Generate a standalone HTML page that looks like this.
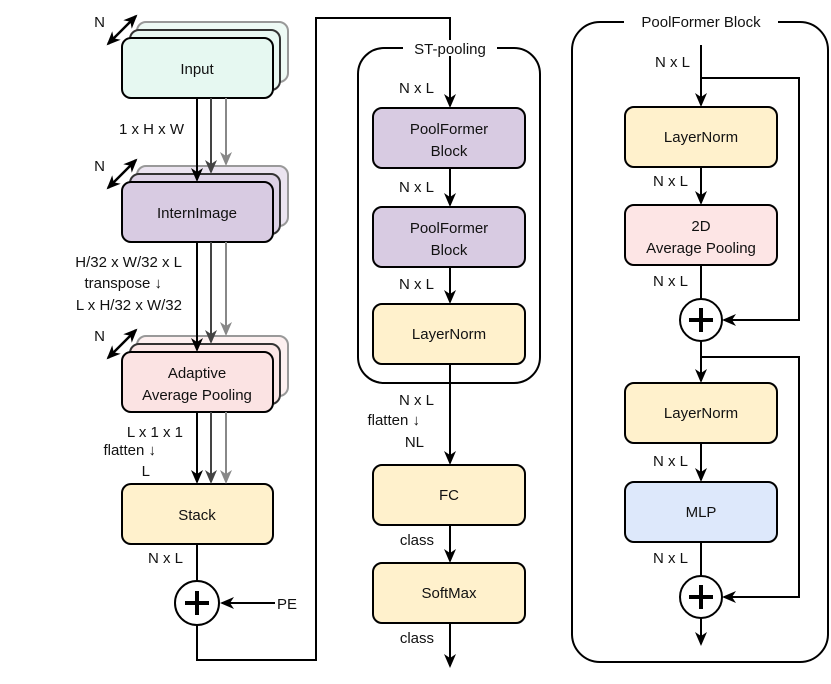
<!DOCTYPE html>
<html><head><meta charset="utf-8"><style>
body{margin:0;background:#fff}
text{font-family:"Liberation Sans",sans-serif;font-size:15px;fill:#111}
</style></head><body>
<svg width="831" height="679" viewBox="0 0 831 679" xmlns="http://www.w3.org/2000/svg">
<defs>
<marker id="a" markerWidth="14" markerHeight="14" refX="12" refY="7" orient="auto" markerUnits="userSpaceOnUse"><path d="M0,1 L14,7 L0,13 L4,7z" fill="#000"/></marker>
<marker id="g1" markerWidth="14" markerHeight="14" refX="12" refY="7" orient="auto" markerUnits="userSpaceOnUse"><path d="M0,1 L14,7 L0,13 L4,7z" fill="#444"/></marker>
<marker id="g2" markerWidth="14" markerHeight="14" refX="12" refY="7" orient="auto" markerUnits="userSpaceOnUse"><path d="M0,1 L14,7 L0,13 L4,7z" fill="#888"/></marker>
<marker id="s" markerWidth="14" markerHeight="14" refX="2" refY="7" orient="auto" markerUnits="userSpaceOnUse"><path d="M14,1 L0,7 L14,13 L10,7z" fill="#000"/></marker>
</defs>
<g stroke-width="2">
<rect x="137" y="22" width="151" height="60" rx="9" fill="#eefaf5" stroke="#999"/>
<rect x="130" y="30" width="150" height="60" rx="9" fill="#e8f8f2" stroke="#333"/>
<rect x="122" y="38" width="151" height="60" rx="9" fill="#e6f8f1" stroke="#000"/>
<rect x="137" y="166" width="151" height="60" rx="9" fill="#ebe4f0" stroke="#999"/>
<rect x="130" y="174" width="150" height="60" rx="9" fill="#ddd2e6" stroke="#333"/>
<rect x="122" y="182" width="151" height="60" rx="9" fill="#d8cbe2" stroke="#000"/>
<rect x="137" y="336" width="151" height="60" rx="9" fill="#fdf0f0" stroke="#999"/>
<rect x="130" y="344" width="150" height="60" rx="9" fill="#fbe6e6" stroke="#333"/>
<rect x="122" y="352" width="151" height="60" rx="9" fill="#fbe3e3" stroke="#000"/>
<rect x="122" y="484" width="151" height="60" rx="9" fill="#fff1cc" stroke="#000"/>
</g>
<g fill="none" stroke-width="2">
<line x1="197" y1="98" x2="197" y2="180" stroke="#000" marker-end="url(#a)"/>
<line x1="211" y1="98" x2="211" y2="172" stroke="#444" marker-end="url(#g1)"/>
<line x1="226" y1="98" x2="226" y2="164" stroke="#888" marker-end="url(#g2)"/>
<line x1="197" y1="242" x2="197" y2="350" stroke="#000" marker-end="url(#a)"/>
<line x1="211" y1="242" x2="211" y2="342" stroke="#444" marker-end="url(#g1)"/>
<line x1="226" y1="242" x2="226" y2="334" stroke="#888" marker-end="url(#g2)"/>
<line x1="197" y1="412" x2="197" y2="482" stroke="#000" marker-end="url(#a)"/>
<line x1="211" y1="412" x2="211" y2="482" stroke="#444" marker-end="url(#g1)"/>
<line x1="226" y1="412" x2="226" y2="482" stroke="#888" marker-end="url(#g2)"/>
<line x1="136" y1="16" x2="108" y2="44" stroke="#000" stroke-width="2.5" marker-end="url(#a)" marker-start="url(#s)"/>
<line x1="136" y1="160" x2="108" y2="188" stroke="#000" stroke-width="2.5" marker-end="url(#a)" marker-start="url(#s)"/>
<line x1="136" y1="330" x2="108" y2="358" stroke="#000" stroke-width="2.5" marker-end="url(#a)" marker-start="url(#s)"/>
<line x1="197" y1="544" x2="197" y2="581" stroke="#000"/>
<line x1="275" y1="603" x2="222" y2="603" stroke="#000" marker-end="url(#a)"/>
<polyline points="197,625 197,660 316,660 316,18 450,18 450,106" stroke="#000" marker-end="url(#a)"/>
</g>
<circle cx="197" cy="603" r="22" fill="#fff" stroke="#000" stroke-width="2"/>
<path d="M185,603h24M197,591v24" stroke="#000" stroke-width="4"/>
<rect x="358" y="48" width="182" height="335" rx="26" fill="none" stroke="#000" stroke-width="2"/>
<rect x="403" y="40" width="94" height="16" fill="#fff"/>
<g stroke-width="2" stroke="#000">
<rect x="373" y="108" width="152" height="60" rx="9" fill="#d8cbe2"/>
<rect x="373" y="207" width="152" height="60" rx="9" fill="#d8cbe2"/>
<rect x="373" y="304" width="152" height="60" rx="9" fill="#fff1cc"/>
<rect x="373" y="465" width="152" height="60" rx="9" fill="#fff1cc"/>
<rect x="373" y="563" width="152" height="60" rx="9" fill="#fff1cc"/>
</g>
<g fill="none" stroke="#000" stroke-width="2" marker-end="url(#a)">
<line x1="450" y1="168" x2="450" y2="205"/>
<line x1="450" y1="267" x2="450" y2="302"/>
<line x1="450" y1="364" x2="450" y2="463"/>
<line x1="450" y1="525" x2="450" y2="561"/>
<line x1="450" y1="623" x2="450" y2="666"/>
</g>
<rect x="572" y="22" width="256" height="640" rx="28" fill="none" stroke="#000" stroke-width="2"/>
<rect x="624" y="12" width="154" height="18" fill="#fff"/>
<g stroke-width="2" stroke="#000">
<rect x="625" y="107" width="152" height="60" rx="9" fill="#fff1cc"/>
<rect x="625" y="205" width="152" height="60" rx="9" fill="#fde5e5"/>
<rect x="625" y="383" width="152" height="60" rx="9" fill="#fff1cc"/>
<rect x="625" y="482" width="152" height="60" rx="9" fill="#dde8fb"/>
</g>
<g fill="none" stroke="#000" stroke-width="2">
<line x1="701" y1="45" x2="701" y2="105" marker-end="url(#a)"/>
<line x1="701" y1="167" x2="701" y2="203" marker-end="url(#a)"/>
<line x1="701" y1="265" x2="701" y2="299"/>
<polyline points="701,78 799,78 799,320 724,320" marker-end="url(#a)"/>
<line x1="701" y1="341" x2="701" y2="381" marker-end="url(#a)"/>
<polyline points="701,357 799,357 799,597 724,597" marker-end="url(#a)"/>
<line x1="701" y1="443" x2="701" y2="480" marker-end="url(#a)"/>
<line x1="701" y1="542" x2="701" y2="576"/>
<line x1="701" y1="618" x2="701" y2="644" marker-end="url(#a)"/>
</g>
<circle cx="701" cy="320" r="21" fill="#fff" stroke="#000" stroke-width="2"/>
<path d="M689,320h24M701,308v24" stroke="#000" stroke-width="4"/>
<circle cx="701" cy="597" r="21" fill="#fff" stroke="#000" stroke-width="2"/>
<path d="M689,597h24M701,585v24" stroke="#000" stroke-width="4"/>
<g text-anchor="middle">
<text x="197" y="74">Input</text>
<text x="197" y="218">InternImage</text>
<text x="197" y="378">Adaptive</text>
<text x="197" y="400">Average Pooling</text>
<text x="197" y="520">Stack</text>
<text x="449" y="134">PoolFormer</text>
<text x="449" y="156">Block</text>
<text x="449" y="233">PoolFormer</text>
<text x="449" y="255">Block</text>
<text x="449" y="339">LayerNorm</text>
<text x="449" y="500">FC</text>
<text x="449" y="598">SoftMax</text>
<text x="450" y="54">ST-pooling</text>
<text x="701" y="27">PoolFormer Block</text>
<text x="701" y="142">LayerNorm</text>
<text x="701" y="231">2D</text>
<text x="701" y="253">Average Pooling</text>
<text x="701" y="418">LayerNorm</text>
<text x="701" y="517">MLP</text>
</g>
<g text-anchor="end">
<text x="105" y="27">N</text>
<text x="105" y="171">N</text>
<text x="105" y="341">N</text>
<text x="184" y="134">1 x H x W</text>
<text x="182" y="267">H/32 x W/32 x L</text>
<text x="162" y="288">transpose ↓</text>
<text x="182" y="310">L x H/32 x W/32</text>
<text x="183" y="437">L x 1 x 1</text>
<text x="156" y="455">flatten ↓</text>
<text x="150" y="476">L</text>
<text x="183" y="563">N x L</text>
<text x="434" y="93">N x L</text>
<text x="434" y="192">N x L</text>
<text x="434" y="289">N x L</text>
<text x="434" y="405">N x L</text>
<text x="420" y="425">flatten ↓</text>
<text x="424" y="447">NL</text>
<text x="434" y="545">class</text>
<text x="434" y="643">class</text>
<text x="690" y="67">N x L</text>
<text x="688" y="186">N x L</text>
<text x="688" y="286">N x L</text>
<text x="688" y="466">N x L</text>
<text x="688" y="563">N x L</text>
</g>
<text x="277" y="609">PE</text>
</svg>
</body></html>
